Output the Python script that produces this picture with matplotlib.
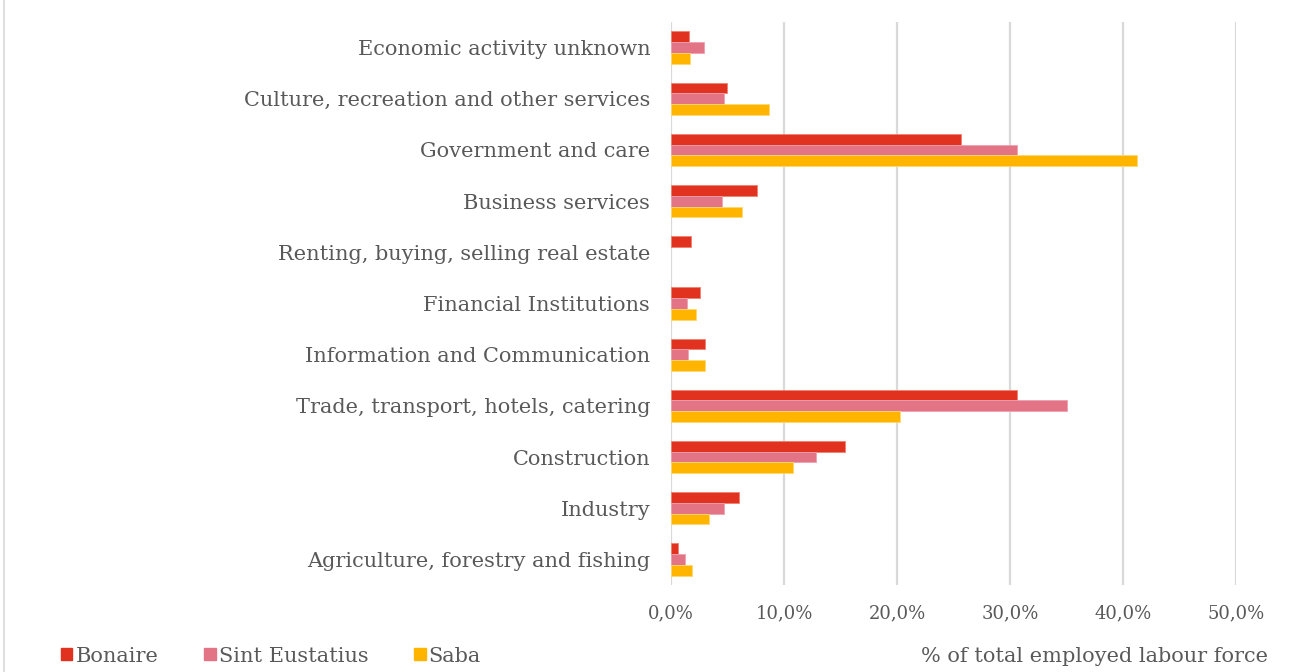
import matplotlib.pyplot as plt
import numpy as np
from matplotlib.patches import Patch
from matplotlib.lines import Line2D

# Sectors (top to bottom as in the chart)
sectors = [
    'Economic activity unknown',
    'Culture, recreation and other services',
    'Government and care',
    'Business services',
    'Renting, buying, selling real estate',
    'Financial Institutions',
    'Information and Communication',
    'Trade, transport, hotels, catering',
    'Construction',
    'Industry',
    'Agriculture, forestry and fishing',
]

# % of total employed labour force
bonaire = [1.6, 5.0, 25.7, 7.6, 1.8, 2.6, 3.0, 30.6, 15.4, 6.0, 0.6]
sint_eustatius = [2.9, 4.7, 30.6, 4.5, 0.0, 1.4, 1.5, 35.0, 12.8, 4.7, 1.2]
saba = [1.7, 8.7, 41.2, 6.3, 0.0, 2.2, 3.0, 20.3, 10.8, 3.4, 1.9]

islands = ['Bonaire', 'Sint Eustatius', 'Saba']
colors = ['#E0321F', '#E27486', '#FFB400']
edges = ['#F08070', '#F0A0AE', '#FFD870']

xticks = [0, 10, 20, 30, 40, 50]
xticklabels = ['0,0%', '10,0%', '20,0%', '30,0%', '40,0%', '50,0%']

text_color = '#595959'
plt.rcParams['font.family'] = ['DejaVu Serif']

fig = plt.figure(figsize=(13.03, 6.72), dpi=100)
ax = fig.add_axes([671 / 1303, 1 - 585 / 672, (1236 - 671) / 1303, (585 - 22) / 672])

y = np.arange(len(sectors))
h = 0.21
for i, (vals, c, e, name) in enumerate(zip([bonaire, sint_eustatius, saba], colors, edges, islands)):
    ax.barh(y + (i - 1) * h, [v if v > 0 else np.nan for v in vals], height=h, color=c,
            edgecolor=e, linewidth=0.6, label=name, zorder=3)

ax.set_ylim(len(sectors) - 0.5, -0.5)
ax.set_xlim(0, 50)
ax.set_xticks(xticks)
ax.set_xticklabels(xticklabels)
ax.set_yticks(y)
ax.set_yticklabels(sectors)
ax.tick_params(axis='x', length=0, pad=14, labelsize=13, labelcolor=text_color)
ax.tick_params(axis='y', length=0, pad=15, labelsize=15, labelcolor=text_color)
ax.grid(True, axis='x', color='#D9D9D9', linewidth=1.6, zorder=0)
for s in ax.spines.values():
    s.set_visible(False)

# left border of the chart area
fig.add_artist(Line2D([4 / 1303, 4 / 1303], [0, 1], color='#D9D9D9', linewidth=1.2))

handles = [Patch(color=c, label=n) for c, n in zip(colors, islands)]
fig.legend(handles=handles, loc='center left', bbox_to_anchor=(42 / 1303, 1 - 656 / 672), ncol=3,
           frameon=False, handlelength=0.55, handleheight=0.55, handletextpad=0.15, columnspacing=2.2,
           labelcolor=text_color, fontsize=15)

fig.text(1268 / 1303, 1 - 657 / 672, '% of total employed labour force', ha='right', va='center',
         color=text_color, fontsize=15)

fig.savefig('out.png', dpi=100)
